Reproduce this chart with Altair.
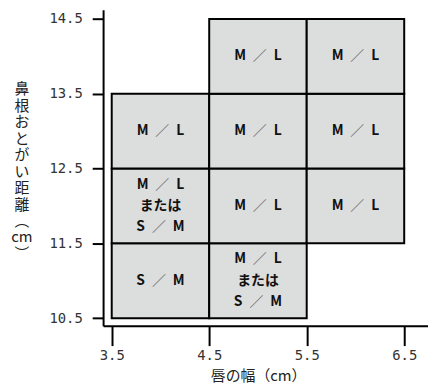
import altair as alt
import pandas as pd

# cell lower-left corners (lip width, nasion-chin distance) and sizes
x_start = [3.5, 3.5, 3.5, 4.5, 4.5, 4.5, 4.5, 5.5, 5.5, 5.5]
y_start = [10.5, 11.5, 12.5, 10.5, 11.5, 12.5, 13.5, 11.5, 12.5, 13.5]
labels = [
    "S／M",
    "M／L\nまたは\nS／M",
    "M／L",
    "M／L\nまたは\nS／M",
    "M／L",
    "M／L",
    "M／L",
    "M／L",
    "M／L",
    "M／L",
]
cell_size = 1.0
x_ticks = [3.5, 4.5, 5.5, 6.5]
y_ticks = [10.5, 11.5, 12.5, 13.5, 14.5]
x_title = "唇の幅（cm）"
y_title = ["鼻", "根", "お", "と", "が", "い", "距", "離", "︵", "cm", "︶"]

SP = "\u2002"          # en space around the slash
LINE_H = 21.5          # px between label lines
SLASH_DX = {"M": 1.8, "S": -1.6}  # slash shift: half width difference of side letters

df = pd.DataFrame({
    "x": x_start,
    "y": y_start,
    "x2": [v + cell_size for v in x_start],
    "y2": [v + cell_size for v in y_start],
})
df["xc"] = (df["x"] + df["x2"]) / 2
df["yc"] = (df["y"] + df["y2"]) / 2
df["nlines"] = [s.count("\n") + 1 for s in labels]
# bold letters, with the slash replaced by an ideographic space of equal advance
df["label"] = [s.replace("／", SP + "\u3000" + SP) for s in labels]

# slash-only rows: one per label line that contains a slash
rows = []
for i, s in enumerate(labels):
    lines = s.split("\n")
    n = len(lines)
    for j, ln in enumerate(lines):
        if "／" in ln:
            rows.append({"xc": df.loc[i, "xc"], "yc": df.loc[i, "yc"],
                         "first": ln[0], "pos": j - (n - 1) / 2, "slash": "／"})
sl = pd.DataFrame(rows)

xscale = alt.Scale(domain=[3.4116, 6.744], nice=False, zero=False)
yscale = alt.Scale(domain=[10.398, 14.623], nice=False, zero=False)

xaxis = alt.Axis(
    values=x_ticks, format=".1f", grid=False, title=x_title,
    domainColor="black", domainWidth=2, tickColor="black", tickWidth=2,
    tickSize=20, labelPadding=3, labelFont="DejaVu Sans Mono", labelFontSize=14,
    labelColor="#333", titleFont="Noto Sans CJK JP", titleFontSize=15,
    titleFontWeight="normal", titleColor="#222", titleX=156.5, titleY=50,
    titleBaseline="middle", titleAnchor="start", titleAlign="center",
)
yaxis = alt.Axis(
    values=y_ticks, format=".1f", grid=False, title=y_title,
    domainColor="black", domainWidth=2, tickColor="black", tickWidth=2,
    tickSize=11, labelPadding=10, labelFont="DejaVu Sans Mono", labelFontSize=14,
    labelColor="#333", titleFont="Noto Sans CJK JP", titleFontSize=15,
    titleFontWeight="normal", titleColor="#222", titleAngle=0,
    titleX=-82.5, titleY=73, titleBaseline="top", titleAlign="center",
    titleLineHeight=16.6, titleAnchor="start",
)

base = alt.Chart(df)

rects = base.mark_rect(fill="#dcdddd", stroke="black", strokeWidth=2).encode(
    x=alt.X("x:Q", scale=xscale, axis=xaxis),
    x2="x2:Q",
    y=alt.Y("y:Q", scale=yscale, axis=yaxis),
    y2="y2:Q",
)

text_style = dict(
    font="Noto Sans CJK JP", fontSize=14, fontWeight="bold", color="#111",
    lineBreak="\n", lineHeight=LINE_H, baseline="middle", align="center",
)
text_enc = dict(
    x=alt.X("xc:Q", scale=xscale),
    y=alt.Y("yc:Q", scale=yscale),
    text="label:N",
)

layers = [rects]
for n in sorted(df["nlines"].unique()):
    layers.append(
        base.transform_filter(f"datum.nlines == {n}")
        .mark_text(dy=-(n - 1) / 2 * LINE_H, **text_style)
        .encode(**text_enc)
    )

slash_base = alt.Chart(sl)
for first in sorted(sl["first"].unique()):
    for pos in sorted(sl.loc[sl["first"] == first, "pos"].unique()):
        layers.append(
            slash_base.transform_filter(
                f"datum.first == '{first}' && datum.pos == {pos}")
            .mark_text(font="Noto Sans CJK JP", fontSize=14, fontWeight="normal",
                       color="#666", baseline="middle", align="center",
                       dx=SLASH_DX[first], dy=pos * LINE_H)
            .encode(x=alt.X("xc:Q", scale=xscale),
                    y=alt.Y("yc:Q", scale=yscale),
                    text="slash:N")
        )

chart = alt.layer(*layers).properties(
    width=328, height=319,
    autosize=alt.AutoSizeParams(type="none"),
    padding={"left": 96, "top": 0, "right": 0, "bottom": 60},
).configure_view(stroke=None)

chart.save("out.html", embed_options={"renderer": "svg", "actions": False})
